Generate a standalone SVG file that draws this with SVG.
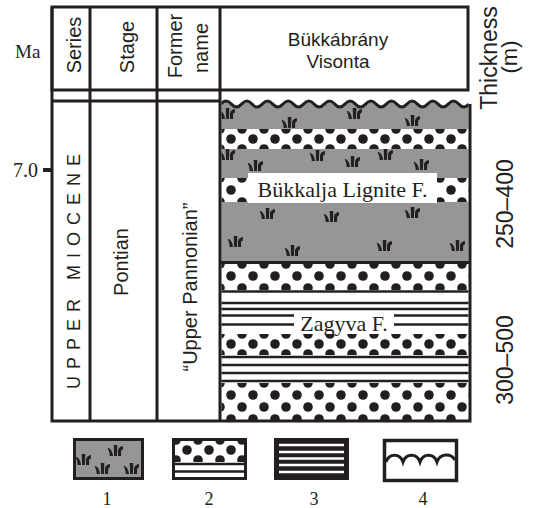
<svg xmlns="http://www.w3.org/2000/svg" width="535" height="508" viewBox="0 0 535 508">
<style>
.ln{stroke:#231f20;stroke-width:3;fill:none}
.hl{stroke:#231f20;stroke-width:2.5}
.sans{font-family:"Liberation Sans",Arial,sans-serif;fill:#231f20}
.serif{font-family:"Liberation Serif","Times New Roman",serif;fill:#231f20}
.grey{fill:#969696}
</style>
<defs>
<pattern id="dA" width="22" height="24" patternUnits="userSpaceOnUse">
<rect width="22" height="24" fill="#fff"/>
<g fill="#231f20"><circle cx="0" cy="0" r="4.8"/><circle cx="22" cy="0" r="4.8"/><circle cx="0" cy="24" r="4.8"/><circle cx="22" cy="24" r="4.8"/><circle cx="11" cy="12" r="4.8"/></g>
</pattern>
<pattern id="dB" width="22" height="20" patternUnits="userSpaceOnUse">
<rect width="22" height="20" fill="#fff"/>
<g fill="#231f20"><circle cx="0" cy="0" r="4.8"/><circle cx="22" cy="0" r="4.8"/><circle cx="0" cy="20" r="4.8"/><circle cx="22" cy="20" r="4.8"/><circle cx="11" cy="10" r="4.8"/></g>
</pattern>
<symbol id="tuft" viewBox="0 0 14 10" width="16.5" height="11">
<path fill="#231f20" d="M0,2.5 Q4,3 5,10 L2,10 Q1.8,6 0,2.5Z M5.6,0 L8.9,0 L8.5,10 L6,10Z M9.5,10 L9.5,5 Q10,1.5 14,1 L14,4 Q12.3,4 12.3,7 L12.3,10Z"/>
</symbol>
<clipPath id="col"><rect x="221.5" y="95" width="247" height="325"/></clipPath>
</defs>

<g id="lithology" clip-path="url(#col)">
<path id="grey1" class="grey" d="M221,104 Q226.17,98 231.33,104 T241.67,104 T252,104 T262.33,104 T272.67,104 T283,104 T293.33,104 T303.67,104 T314,104 T324.33,104 T334.67,104 T345,104 T355.33,104 T365.67,104 T376,104 T386.33,104 T396.67,104 T407,104 T417.33,104 T427.67,104 T438,104 T448.33,104 T458.67,104 T469,104 L469,130 L221,130Z"/>
<rect id="grey2" class="grey" x="221" y="149" width="248" height="29"/>
<rect id="grey3" class="grey" x="221" y="202" width="248" height="60"/>
<g transform="translate(0,129)"><rect x="221" y="0" width="248" height="20" fill="url(#dB)"/></g>
<g transform="translate(0,178)"><rect x="221" y="0" width="248" height="24" fill="url(#dA)"/></g>
<g transform="translate(0,264)"><rect x="221" y="0" width="248" height="26" fill="url(#dA)"/></g>
<g transform="translate(0,334)"><rect x="221" y="0" width="248" height="21" fill="url(#dB)"/></g>
<g transform="translate(0,383)"><rect x="221" y="0" width="248" height="38" fill="url(#dA)"/></g>
<rect x="221" y="290" width="248" height="44" fill="#fff"/>
<rect x="221" y="355" width="248" height="28" fill="#fff"/>
<g class="hl">
<line x1="221" y1="291.5" x2="469" y2="291.5"/>
<line x1="221" y1="303" x2="469" y2="303"/>
<line x1="221" y1="309" x2="469" y2="309"/>
<line x1="221" y1="315.5" x2="469" y2="315.5"/>
<line x1="221" y1="324.5" x2="469" y2="324.5"/>
<line x1="221" y1="357" x2="469" y2="357"/>
<line x1="221" y1="365" x2="469" y2="365"/>
<line x1="221" y1="373" x2="469" y2="373"/>
<line x1="221" y1="381" x2="469" y2="381"/>
</g>
<g>
<use href="#tuft" x="219" y="108"/>
<use href="#tuft" x="281" y="117"/>
<use href="#tuft" x="346" y="108"/>
<use href="#tuft" x="404" y="115"/>
<use href="#tuft" x="219" y="149"/>
<use href="#tuft" x="247" y="160"/>
<use href="#tuft" x="309" y="150"/>
<use href="#tuft" x="344" y="156"/>
<use href="#tuft" x="377" y="149"/>
<use href="#tuft" x="413" y="159"/>
<use href="#tuft" x="259" y="208"/>
<use href="#tuft" x="323" y="211"/>
<use href="#tuft" x="404" y="207"/>
<use href="#tuft" x="227" y="236"/>
<use href="#tuft" x="284" y="245"/>
<use href="#tuft" x="376" y="240"/>
<use href="#tuft" x="449" y="240"/>
</g>
<path class="ln" stroke-width="2.5" d="M221,104 Q226.17,98 231.33,104 T241.67,104 T252,104 T262.33,104 T272.67,104 T283,104 T293.33,104 T303.67,104 T314,104 T324.33,104 T334.67,104 T345,104 T355.33,104 T365.67,104 T376,104 T386.33,104 T396.67,104 T407,104 T417.33,104 T427.67,104 T438,104 T448.33,104 T458.67,104 T469,104"/>
</g>
<line class="ln" x1="220" y1="262.5" x2="470" y2="262.5"/>

<g id="label-bukkalja">
<rect x="248" y="173" width="189" height="30" fill="#fff"/>
<text class="serif" x="342.5" y="197" font-size="22" text-anchor="middle">Bükkalja Lignite F.</text>
</g>
<g id="label-zagyva">
<rect x="294" y="313" width="100" height="20" fill="#fff"/>
<text class="serif" x="344" y="331" font-size="22" text-anchor="middle">Zagyva F.</text>
</g>

<g id="frame">
<path class="ln" d="M52,7 H468 V90 H52 Z"/>
<path class="ln" d="M52,7 V421 H470 V104"/>
<path class="ln" d="M90,7 V421 M157,7 V421 M220,7 V421 M52,101 H220"/>
</g>

<g id="headers">
<text class="sans" font-size="20" text-anchor="middle" transform="translate(81,45) rotate(-90)">Series</text>
<text class="sans" font-size="20" text-anchor="middle" transform="translate(134,47) rotate(-90)">Stage</text>
<text class="sans" font-size="20" text-anchor="middle" transform="translate(182,46) rotate(-90)">Former</text>
<text class="sans" font-size="20" text-anchor="middle" transform="translate(208,48) rotate(-90)">name</text>
<text class="sans" font-size="19" text-anchor="middle" x="338" y="46">Bükkábrány</text>
<text class="sans" font-size="19" text-anchor="middle" x="338" y="68">Visonta</text>
<text class="sans" font-size="23" text-anchor="middle" transform="translate(497,58) rotate(-90)">Thickness</text>
<text class="sans" font-size="22" text-anchor="middle" transform="translate(517,57) rotate(-90)">(m)</text>
<text class="serif" font-size="19" x="15" y="58">Ma</text>
</g>

<g id="column-labels">
<text class="sans" font-size="18" letter-spacing="7" text-anchor="middle" transform="translate(80,268) rotate(-90)">UPPER MIOCENE</text>
<text class="sans" font-size="20" text-anchor="middle" transform="translate(127.5,262) rotate(-90)">Pontian</text>
<text class="sans" font-size="20" text-anchor="middle" transform="translate(197,287) rotate(-90)">“Upper Pannonian”</text>
<text class="sans" font-size="23" text-anchor="middle" transform="translate(513,204) rotate(-90)">250–400</text>
<text class="sans" font-size="23" text-anchor="middle" transform="translate(513,360) rotate(-90)">300–500</text>
<text class="serif" font-size="20" x="13" y="177">7.0</text>
<line x1="43" y1="170" x2="52" y2="170" stroke="#231f20" stroke-width="4"/>
</g>

<g id="legend1">
<rect x="74.5" y="439.5" width="68" height="39" class="grey" stroke="#231f20" stroke-width="3"/>
<use href="#tuft" x="75" y="454"/>
<use href="#tuft" x="107" y="445"/>
<use href="#tuft" x="94" y="463"/>
<use href="#tuft" x="123" y="463"/>
</g>
<g id="legend2">
<g transform="translate(0,440)"><rect x="173" y="0" width="72" height="22" fill="url(#dB)"/></g>
<rect x="173" y="462" width="72" height="16" fill="#fff"/>
<line class="hl" x1="173" y1="464" x2="245" y2="464"/>
<line class="hl" x1="173" y1="471.5" x2="245" y2="471.5"/>
<rect x="173.5" y="439.5" width="72" height="39" fill="none" stroke="#231f20" stroke-width="3"/>
</g>
<g id="legend3">
<rect x="274" y="438" width="75" height="42" fill="#231f20"/>
<g stroke="#fff" stroke-width="2.5">
<line x1="279" y1="445" x2="344" y2="445"/>
<line x1="279" y1="452" x2="344" y2="452"/>
<line x1="279" y1="458.5" x2="344" y2="458.5"/>
<line x1="279" y1="465" x2="344" y2="465"/>
<line x1="279" y1="472" x2="344" y2="472"/>
</g>
</g>
<g id="legend4">
<rect x="384.5" y="440.5" width="72" height="40" fill="#fff" stroke="#231f20" stroke-width="3.5"/>
<path class="ln" stroke-width="2.5" d="M386,462 C389,453 400,453 403,462 C406,453 417,453 420,462 C423,453 434,453 437,462 C440,453 451,453 455,460"/>
</g>
<g id="legend-labels" class="serif" font-size="18" text-anchor="middle">
<text x="107" y="505">1</text>
<text x="209" y="505">2</text>
<text x="314" y="505">3</text>
<text x="423" y="505">4</text>
</g>
</svg>
